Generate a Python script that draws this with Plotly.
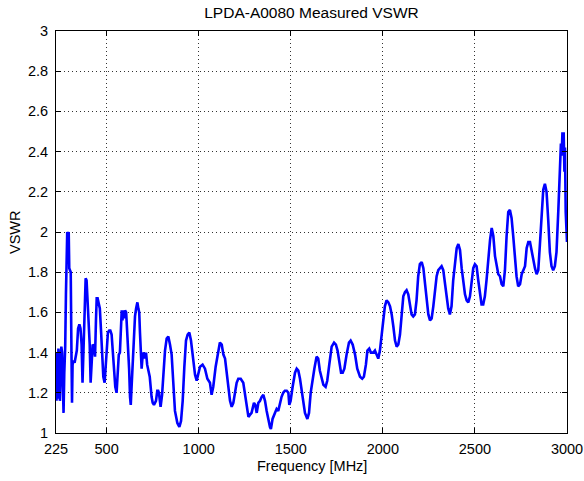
import plotly.graph_objects as go

title_text = "LPDA-A0080 Measured VSWR"
x_label = "Frequency [MHz]"
y_label = "VSWR"

x_tick_vals = [225, 500, 1000, 1500, 2000, 2500, 3000]
x_tick_text = ["225", "500", "1000", "1500", "2000", "2500", "3000"]
y_tick_vals = [1, 1.2, 1.4, 1.6, 1.8, 2, 2.2, 2.4, 2.6, 2.8, 3]
y_tick_text = ["1", "1.2", "1.4", "1.6", "1.8", "2", "2.2", "2.4", "2.6", "2.8", "3"]

freq_mhz = [
    225, 228, 231, 234, 238, 242, 246, 250, 254, 258, 262, 266, 270, 275, 279, 283, 286, 290, 294, 297,
    301, 305, 309, 312, 315, 320, 326, 332, 338, 345, 352, 358, 364, 369, 374, 380, 386, 391, 396, 402,
    408, 413, 418, 424, 431, 437, 442, 446, 451, 456, 463, 470, 476, 482, 489, 494, 500, 507, 514, 520,
    527, 534, 541, 547, 554, 560, 566, 572, 578, 582, 586, 590, 594, 600, 606, 611, 616, 622, 627, 631,
    635, 641, 648, 654, 660, 667, 672, 677, 681, 685, 690, 696, 702, 708, 714, 720, 727, 734, 744, 750,
    757, 763, 768, 775, 780, 784, 789, 793, 801, 808, 817, 826, 835, 844, 853, 862, 871, 884, 895, 904,
    913, 922, 931, 940, 949, 958, 967, 980, 989, 998, 1007, 1021, 1034, 1047, 1061, 1070, 1079, 1092, 1106, 1115,
    1125, 1134, 1143, 1152, 1161, 1170, 1179, 1188, 1197, 1206, 1215, 1228, 1242, 1251, 1260, 1270, 1278, 1287, 1300, 1307,
    1315, 1324, 1333, 1342, 1351, 1360, 1369, 1378, 1387, 1392, 1401, 1414, 1423, 1432, 1441, 1450, 1459, 1468, 1478, 1487,
    1492, 1499, 1510, 1523, 1532, 1541, 1550, 1559, 1568, 1577, 1590, 1599, 1608, 1617, 1628, 1640, 1649, 1658, 1668, 1677,
    1689, 1698, 1709, 1722, 1735, 1745, 1754, 1763, 1773, 1782, 1791, 1803, 1816, 1825, 1836, 1849, 1861, 1876, 1888, 1897,
    1908, 1916, 1926, 1935, 1948, 1957, 1966, 1975, 1984, 1993, 2002, 2011, 2020, 2030, 2039, 2048, 2057, 2066, 2075, 2084,
    2093, 2102, 2111, 2120, 2129, 2138, 2147, 2156, 2165, 2174, 2183, 2192, 2201, 2211, 2220, 2229, 2238, 2247, 2256, 2265,
    2274, 2283, 2292, 2301, 2310, 2319, 2328, 2337, 2346, 2355, 2364, 2373, 2382, 2392, 2401, 2410, 2419, 2428, 2437, 2446,
    2455, 2464, 2473, 2482, 2491, 2500, 2509, 2518, 2527, 2536, 2545, 2554, 2563, 2573, 2582, 2591, 2600, 2609, 2618, 2627,
    2636, 2645, 2654, 2663, 2672, 2681, 2690, 2699, 2708, 2717, 2726, 2735, 2745, 2754, 2763, 2772, 2781, 2790, 2799, 2808,
    2817, 2826, 2835, 2844, 2853, 2862, 2871, 2880, 2889, 2898, 2907, 2916, 2925, 2934, 2943, 2953, 2962, 2967, 2971, 2975,
    2982, 2986, 2989, 2993, 3000,
]

vswr = [
    1.40, 1.16, 1.40, 1.17, 1.42, 1.38, 1.16, 1.40, 1.43, 1.40, 1.15, 1.10, 1.30, 1.43, 1.69, 1.85, 2.00, 1.98, 2.00, 1.82,
    1.81, 1.80, 1.40, 1.15, 1.34, 1.36, 1.35, 1.38, 1.41, 1.52, 1.54, 1.52, 1.44, 1.25, 1.44, 1.62, 1.77, 1.76, 1.67, 1.55,
    1.44, 1.25, 1.34, 1.44, 1.43, 1.38, 1.56, 1.67, 1.67, 1.65, 1.62, 1.50, 1.35, 1.28, 1.25, 1.33, 1.44, 1.50, 1.51, 1.51,
    1.49, 1.38, 1.28, 1.23, 1.20, 1.30, 1.39, 1.40, 1.56, 1.61, 1.56, 1.61, 1.57, 1.61, 1.60, 1.53, 1.44, 1.32, 1.18, 1.14,
    1.22, 1.34, 1.50, 1.58, 1.62, 1.65, 1.62, 1.60, 1.50, 1.36, 1.32, 1.39, 1.40, 1.37, 1.40, 1.34, 1.31, 1.28, 1.18, 1.15,
    1.14, 1.15, 1.16, 1.21, 1.21, 1.20, 1.15, 1.13, 1.19, 1.29, 1.41, 1.47, 1.48, 1.44, 1.39, 1.25, 1.11, 1.05, 1.03, 1.06,
    1.16, 1.33, 1.46, 1.49, 1.50, 1.46, 1.38, 1.29, 1.26, 1.30, 1.33, 1.34, 1.32, 1.27, 1.25, 1.19, 1.23, 1.33, 1.41, 1.45,
    1.44, 1.39, 1.37, 1.30, 1.24, 1.16, 1.13, 1.15, 1.20, 1.25, 1.27, 1.27, 1.25, 1.19, 1.13, 1.08, 1.09, 1.10, 1.15, 1.14,
    1.10, 1.15, 1.16, 1.18, 1.19, 1.16, 1.11, 1.06, 1.03, 1.02, 1.07, 1.10, 1.12, 1.11, 1.15, 1.18, 1.20, 1.21, 1.21, 1.20,
    1.14, 1.16, 1.23, 1.30, 1.32, 1.31, 1.27, 1.21, 1.14, 1.10, 1.07, 1.10, 1.20, 1.26, 1.32, 1.38, 1.37, 1.31, 1.27, 1.24,
    1.23, 1.26, 1.34, 1.43, 1.45, 1.44, 1.41, 1.36, 1.30, 1.30, 1.32, 1.39, 1.45, 1.46, 1.44, 1.39, 1.32, 1.28, 1.27, 1.28,
    1.34, 1.41, 1.42, 1.40, 1.40, 1.41, 1.39, 1.37, 1.41, 1.49, 1.56, 1.63, 1.66, 1.65, 1.63, 1.59, 1.53, 1.46, 1.43, 1.44,
    1.49, 1.59, 1.68, 1.70, 1.71, 1.69, 1.63, 1.59, 1.58, 1.59, 1.66, 1.78, 1.84, 1.85, 1.82, 1.74, 1.66, 1.59, 1.56, 1.57,
    1.63, 1.71, 1.78, 1.81, 1.82, 1.83, 1.81, 1.74, 1.68, 1.62, 1.59, 1.63, 1.76, 1.85, 1.92, 1.94, 1.91, 1.82, 1.74, 1.69,
    1.66, 1.65, 1.68, 1.74, 1.82, 1.84, 1.83, 1.76, 1.69, 1.64, 1.64, 1.68, 1.76, 1.88, 1.96, 2.02, 1.98, 1.88, 1.83, 1.79,
    1.78, 1.74, 1.73, 1.81, 1.98, 2.10, 2.11, 2.07, 1.98, 1.88, 1.78, 1.73, 1.74, 1.79, 1.81, 1.83, 1.92, 1.95, 1.95, 1.90,
    1.85, 1.82, 1.79, 1.81, 1.94, 2.11, 2.21, 2.24, 2.20, 2.06, 1.90, 1.83, 1.81, 1.83, 1.90, 2.11, 2.34, 2.44, 2.38, 2.49,
    2.49, 2.30, 2.42, 2.10, 1.95,
]

font_family = "Liberation Sans, Arial, Helvetica, sans-serif"
fsize = 14.5

W, H = 584, 481
L, R, T, B = 56, 17, 31, 48
plot_w = W - L - R
plot_h = H - T - B

fig = go.Figure()
fig.add_trace(go.Scatter(
    x=freq_mhz, y=vswr, mode="lines",
    line=dict(color="#0000FF", width=2.6),
    showlegend=False, hoverinfo="skip",
))

axis_common = dict(
    showline=True, linecolor="black", linewidth=1, mirror="ticks",
    ticks="inside", ticklen=5, tickcolor="black", tickwidth=1,
    showgrid=True, gridcolor="#333333", gridwidth=1, griddash="1px,3px",
    zeroline=False, automargin=False, ticklabeloverflow="allow",
    tickfont=dict(family=font_family, size=fsize, color="black"),
)

fig.update_layout(
    width=W, height=H,
    margin=dict(l=L, r=R, t=T, b=B, autoexpand=False),
    paper_bgcolor="white", plot_bgcolor="white",
    font=dict(family=font_family, size=fsize, color="black"),
    title=dict(text=title_text, x=0.5, xanchor="center", y=1 - 12.5 / H, yanchor="middle",
               xref="paper", font=dict(family=font_family, size=15.5, color="black")),
    xaxis=dict(range=[225, 3000], tickvals=x_tick_vals, ticktext=x_tick_text,
               ticklabelstandoff=3, **axis_common),
    yaxis=dict(range=[1, 3], tickvals=y_tick_vals, ticktext=y_tick_text,
               ticklabelstandoff=4, **axis_common),
    annotations=[
        dict(text=x_label, xref="paper", yref="paper", x=0.5, y=-(466 - (T + plot_h)) / plot_h,
             xanchor="center", yanchor="middle", showarrow=False,
             font=dict(family=font_family, size=fsize, color="black")),
        dict(text=y_label, xref="paper", yref="paper", x=(15 - L) / plot_w, y=0.5,
             xanchor="center", yanchor="middle", showarrow=False, textangle=-90,
             font=dict(family=font_family, size=fsize, color="black")),
    ],
)

# remove the default 8 px page margin so the figure fills the 584x481 window exactly
fig.write_html(
    "out.html",
    config={"displayModeBar": False, "staticPlot": True},
    post_script="document.body.style.margin='0';document.body.style.overflow='hidden';",
)
